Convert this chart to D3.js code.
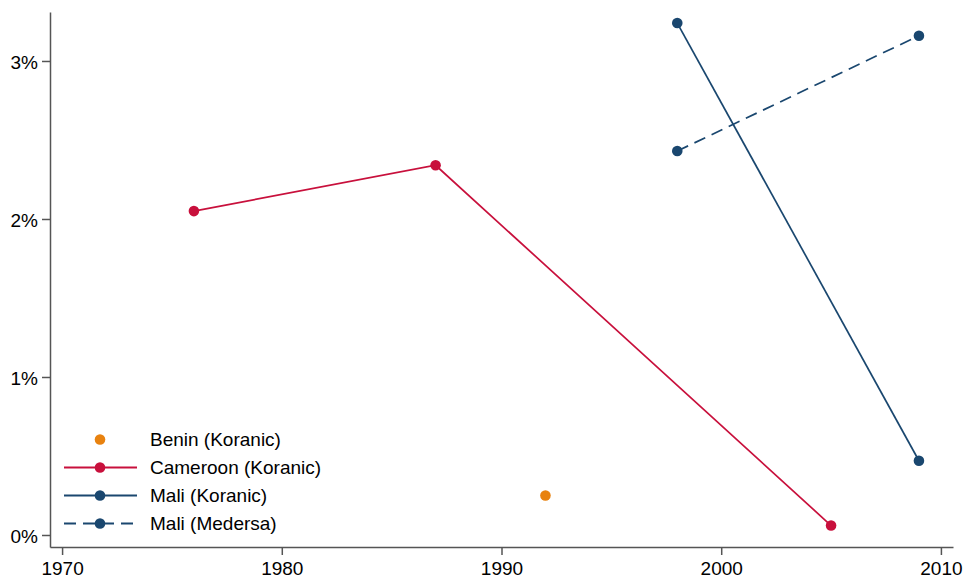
<!DOCTYPE html>
<html>
<head>
<meta charset="utf-8">
<script src="https://cdn.jsdelivr.net/npm/d3@7"></script>
<style>
  body { margin: 0; background: #fff; }
  text { font-family: "Liberation Sans", Arial, sans-serif; }
</style>
</head>
<body>
<div id="chart"></div>
<script>
// Data (share in percent)
const beninYears = [1992];
const beninValues = [0.25];
const cameroonYears = [1976, 1987, 2005];
const cameroonValues = [2.05, 2.34, 0.06];
const maliKoranicYears = [1998, 2009];
const maliKoranicValues = [3.24, 0.47];
const maliMedersaYears = [1998, 2009];
const maliMedersaValues = [2.43, 3.16];
const xTicks = [1970, 1980, 1990, 2000, 2010];
const yTicks = [0, 1, 2, 3];

const width = 964;
const height = 581;
const margin = { top: 12, right: 11, bottom: 34, left: 50 };
const fontSize = 19;

const svg = d3.select("#chart")
    .append("svg")
    .attr("width", width)
    .attr("height", height);

const xScale = d3.scaleLinear()
    .domain([1969.45, 2010.55])
    .range([margin.left, width - margin.right]);

const yScale = d3.scaleLinear()
    .domain([-0.076, 3.31])
    .range([height - margin.bottom, margin.top]);

const series = [
    { name: "Benin (Koranic)", color: "#e8820f", dash: null, line: false,
      pts: beninYears.map((y, i) => [y, beninValues[i]]) },
    { name: "Cameroon (Koranic)", color: "#c8103c", dash: null, line: true,
      pts: cameroonYears.map((y, i) => [y, cameroonValues[i]]) },
    { name: "Mali (Koranic)", color: "#1a476f", dash: null, line: true,
      pts: maliKoranicYears.map((y, i) => [y, maliKoranicValues[i]]) },
    { name: "Mali (Medersa)", color: "#1a476f", dash: "12,7", line: true,
      pts: maliMedersaYears.map((y, i) => [y, maliMedersaValues[i]]) }
];

// Axes
const axisColor = "#555";
const xAxis = d3.axisBottom(xScale).tickValues(xTicks).tickFormat(d3.format("d")).tickSize(8).tickSizeOuter(0);
const gx = svg.append("g")
    .attr("transform", `translate(0,${height - margin.bottom})`)
    .call(xAxis);
gx.select(".domain").attr("stroke", axisColor).attr("stroke-width", 1.5);
gx.selectAll(".tick line").attr("stroke", axisColor).attr("stroke-width", 1.5);
gx.selectAll(".tick text").attr("font-size", fontSize).attr("fill", "#000").attr("dy", "0.88em");

const yAxis = d3.axisLeft(yScale).tickValues(yTicks).tickFormat(d => d + "%").tickSize(8).tickSizeOuter(0);
const gy = svg.append("g")
    .attr("transform", `translate(${margin.left},0)`)
    .call(yAxis);
gy.select(".domain").attr("stroke", axisColor).attr("stroke-width", 1.5);
gy.selectAll(".tick line").attr("stroke", axisColor).attr("stroke-width", 1.5);
gy.selectAll(".tick text").attr("font-size", fontSize).attr("fill", "#000").attr("x", -12).attr("dy", "0.38em");

// Lines and markers
const line = d3.line().x(d => xScale(d[0])).y(d => yScale(d[1]));

series.forEach(s => {
    if (s.line) {
        svg.append("path")
            .datum(s.pts)
            .attr("d", line)
            .attr("fill", "none")
            .attr("stroke", s.color)
            .attr("stroke-width", 1.7)
            .attr("stroke-dasharray", s.dash);
    }
    svg.selectAll(null)
        .data(s.pts)
        .enter().append("circle")
        .attr("cx", d => xScale(d[0]))
        .attr("cy", d => yScale(d[1]))
        .attr("r", 5.3)
        .attr("fill", s.color);
});

// Legend
const legend = svg.append("g").attr("transform", "translate(64,439.5)");
const items = legend.selectAll(".legendItem")
    .data(series)
    .enter().append("g")
    .attr("class", "legendItem")
    .attr("transform", (d, i) => `translate(0,${i * 28})`);

items.filter(d => d.line).append("line")
    .attr("x1", 0).attr("x2", 73)
    .attr("stroke", d => d.color)
    .attr("stroke-width", 1.8)
    .attr("stroke-dasharray", d => d.dash);

items.append("circle")
    .attr("cx", 36)
    .attr("r", 5.3)
    .attr("fill", d => d.color);

items.append("text")
    .attr("x", 86)
    .attr("dy", "0.36em")
    .attr("font-size", fontSize)
    .text(d => d.name);
</script>
</body>
</html>
